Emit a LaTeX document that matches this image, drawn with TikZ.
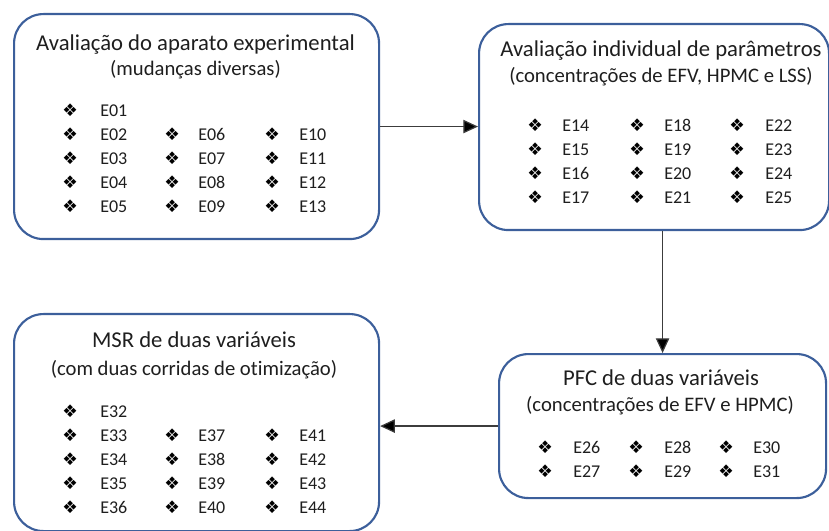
\documentclass[tikz,border=0pt]{standalone}
\usepackage{fontspec}
\setmainfont{Carlito}[Ligatures={NoCommon}]
\newfontfamily\dejavu{DejaVu Sans}
\usetikzlibrary{arrows.meta}
\definecolor{boxblue}{RGB}{60,95,155}
\definecolor{txt}{RGB}{30,30,30}
\definecolor{arrgray}{RGB}{60,60,60}
\tikzset{
  box/.style={draw=boxblue, line width=1.6pt, rounded corners=22pt, anchor=north west, inner sep=0pt},
  ttl/.style={font=\fontsize{17}{20}\selectfont, text=txt, anchor=base, inner sep=0pt},
  sub/.style={font=\fontsize{15.5}{18}\selectfont, text=txt, anchor=base, inner sep=0pt},
  bul/.style={font=\dejavu\fontsize{13}{14}\selectfont, text=black, anchor=base west, inner sep=0pt},
  itm/.style={font=\fontsize{13.5}{15}\selectfont, text=txt, anchor=base west, inner sep=0pt},
  conn/.style={draw=arrgray, line width=0.9pt, -{Triangle[length=11pt,width=10pt,fill=black]}}
}
\newcommand\itemat[4]{%
  \node[bul] (#1b) at (#2,#4) {❖};
  \node[itm] (#1) at (#3,#4) {#1};}
\begin{document}
\begin{tikzpicture}[x=0.75pt,y=-0.75pt]
\useasboundingbox (0,0) rectangle (829,531);
% boxes
\node[box, minimum width=273.75pt, minimum height=168.75pt] (A) at (13,13) {};
\node[box, minimum width=262.5pt, minimum height=154.5pt] (B) at (478,23) {};
\node[box, minimum width=273.75pt, minimum height=162.75pt] (C) at (13,313) {};
\node[box, minimum width=245.25pt, minimum height=108pt] (D) at (498,353) {};
% box A
\node[ttl] (At) at (195.5,51) {Avaliação do aparato experimental};
\node[sub] (As) at (195.5,76) {(mudanças diversas)};
\itemat{E01}{62}{100}{117}
\itemat{E02}{62}{100}{141}
\itemat{E03}{62}{100}{165}
\itemat{E04}{62}{100}{189}
\itemat{E05}{62}{100}{213}
\itemat{E06}{164}{198}{141}
\itemat{E07}{164}{198}{165}
\itemat{E08}{164}{198}{189}
\itemat{E09}{164}{198}{213}
\itemat{E10}{264}{299}{141}
\itemat{E11}{264}{299}{165}
\itemat{E12}{264}{299}{189}
\itemat{E13}{264}{299}{213}
% box B
\node[ttl] (Bt) at (661,57) {Avaliação individual de parâmetros};
\node[sub] (Bs) at (661,83) {(concentrações de EFV, HPMC e LSS)};
\itemat{E14}{527}{562}{132}
\itemat{E15}{527}{562}{156}
\itemat{E16}{527}{562}{180}
\itemat{E17}{527}{562}{204}
\itemat{E18}{629}{664}{132}
\itemat{E19}{629}{664}{156}
\itemat{E20}{629}{664}{180}
\itemat{E21}{629}{664}{204}
\itemat{E22}{729}{765}{132}
\itemat{E23}{729}{765}{156}
\itemat{E24}{729}{765}{180}
\itemat{E25}{729}{765}{204}
% box D
\node[ttl] (Dt) at (661,385) {PFC de duas variáveis};
\node[sub] (Ds) at (660,411) {(concentrações de EFV e HPMC)};
\itemat{E26}{537}{573}{453}
\itemat{E27}{537}{573}{477}
\itemat{E28}{628}{664}{453}
\itemat{E29}{628}{664}{477}
\itemat{E30}{718}{753}{453}
\itemat{E31}{718}{753}{477}
% box C
\node[ttl] (Ct) at (194,348) {MSR de duas variáveis};
\node[sub] (Cs) at (194,375) {(com duas corridas de otimização)};
\itemat{E32}{62}{100}{417}
\itemat{E33}{62}{100}{441}
\itemat{E34}{62}{100}{465}
\itemat{E35}{62}{100}{489}
\itemat{E36}{62}{100}{513}
\itemat{E37}{164}{198}{441}
\itemat{E38}{164}{198}{465}
\itemat{E39}{164}{198}{489}
\itemat{E40}{164}{198}{513}
\itemat{E41}{264}{299}{441}
\itemat{E42}{264}{299}{465}
\itemat{E43}{264}{299}{489}
\itemat{E44}{264}{299}{513}
% connectors
\draw[conn] (A.east) -- (A.east -| B.west);
\draw[conn] (B.south -| D.north) -- (D.north);
\draw[conn] (D.west) -- (D.west -| C.east);
\end{tikzpicture}
\end{document}
